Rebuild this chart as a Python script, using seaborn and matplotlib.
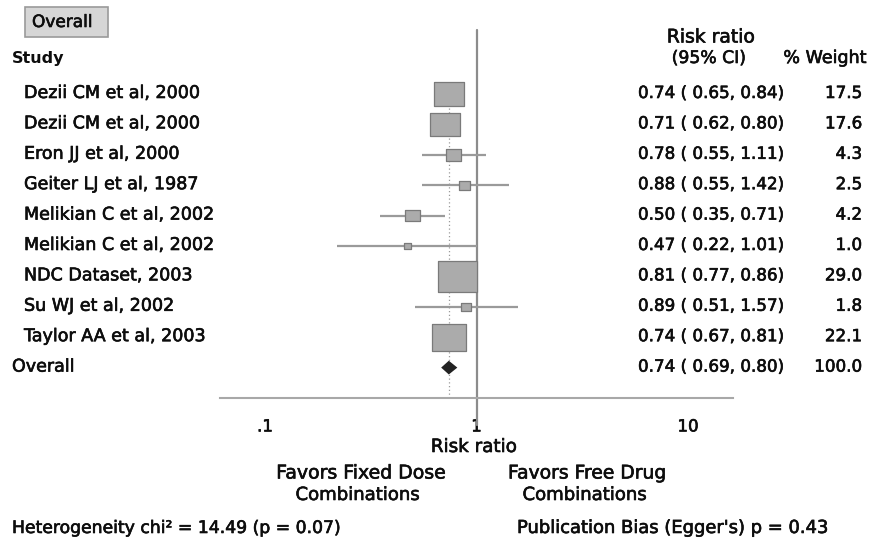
import numpy as np
import pandas as pd
import matplotlib
matplotlib.use("Agg")
import matplotlib.pyplot as plt
import matplotlib.patheffects as pe
from matplotlib.path import Path
from matplotlib.patches import Rectangle, Polygon
import seaborn as sns

# ---------------- data ----------------
studies = ["Dezii CM et al, 2000", "Dezii CM et al, 2000", "Eron JJ et al, 2000",
           "Geiter LJ et al, 1987", "Melikian C et al, 2002", "Melikian C et al, 2002",
           "NDC Dataset, 2003", "Su WJ et al, 2002", "Taylor AA et al, 2003"]
rr = [0.74, 0.71, 0.78, 0.88, 0.50, 0.47, 0.81, 0.89, 0.74]
lo = [0.65, 0.62, 0.55, 0.55, 0.35, 0.22, 0.77, 0.51, 0.67]
hi = [0.84, 0.80, 1.11, 1.42, 0.71, 1.01, 0.86, 1.57, 0.81]
weight = [17.5, 17.6, 4.3, 2.5, 4.2, 1.0, 29.0, 1.8, 22.1]
overall_rr, overall_lo, overall_hi, overall_w = 0.74, 0.69, 0.80, 100.0
xticks = [0.1, 1, 10]
xticklabels = [".1", "1", "10"]
het_text = "Heterogeneity chi\u00b2 = 14.49 (p = 0.07)"
bias_text = "Publication Bias (Egger's) p = 0.43"

# ---------------- figure ----------------
sns.set_style("white")
plt.rcParams["font.family"] = ["DejaVu Sans"]
W, H = 871, 543
fig = plt.figure(figsize=(W / 100, H / 100), dpi=100)

def fx(px):
    return px / W

def fy(py):
    return 1 - py / H

TXT = "#0d0d0d"
GRAY_LINE = "#9a9a9a"
HEAVY = [pe.withStroke(linewidth=0.45, foreground=TXT)]

# axes mapped to pixels: x 220..733, y 30..398
ax_l, ax_r, ax_t, ax_b = 220, 733, 30, 398
ax = fig.add_axes([fx(ax_l), fy(ax_b), (ax_r - ax_l) / W, (ax_b - ax_t) / H])
ax.set_xscale("log")
x1, dec = 476.5, 211.5
ax.set_xlim(10 ** ((ax_l - x1) / dec), 10 ** ((ax_r - x1) / dec))
row0, rstep = 94.0, 30.4
ax.set_ylim((ax_b - row0) / rstep, (ax_t - row0) / rstep)

df = pd.DataFrame({"study": studies, "rr": rr, "lo": lo, "hi": hi,
                   "weight": weight, "row": np.arange(len(studies))})

# CI lines
ax.hlines(df["row"], df["lo"], df["hi"], color=GRAY_LINE, lw=1.6, zorder=2)

# weight boxes (area proportional to weight)
rect = Path([(-0.64, -0.5), (0.64, -0.5), (0.64, 0.5), (-0.64, 0.5), (-0.64, -0.5)],
            [Path.MOVETO, Path.LINETO, Path.LINETO, Path.LINETO, Path.CLOSEPOLY])
k = 27.2
wmin, wmax = min(weight), max(weight)
sns.scatterplot(data=df, x="rr", y="row", size="weight",
                sizes=(k * wmin, k * wmax), size_norm=(wmin, wmax),
                marker=rect, color="#ababab", edgecolor="#7a7a7a", linewidth=0.9,
                legend=False, ax=ax, zorder=3)

# overall diamond
orow = len(studies)
dh = 0.19
ax.add_patch(Polygon([(overall_lo, orow), (overall_rr, orow - dh), (overall_hi, orow),
                      (overall_rr, orow + dh)], closed=True, facecolor="#222222",
                     edgecolor="#222222", lw=1.2, zorder=4))

# reference lines
ax.axvline(1, ymin=-(425 - ax_b) / (ax_b - ax_t), ymax=1, color="#8c8c8c", lw=1.6,
           clip_on=False, zorder=1)
ax.axvline(overall_rr, ymin=0, ymax=(ax_b - 80) / (ax_b - ax_t), color="#9a9a9a",
           lw=0.9, ls=(0, (1, 2)), zorder=1)

# axes styling
for s in ["left", "top", "right"]:
    ax.spines[s].set_visible(False)
ax.spines["bottom"].set_color("#a8a8a8")
ax.spines["bottom"].set_linewidth(1.5)
ax.set_yticks([])
ax.set_ylabel("")
ax.set_xticks(xticks)
ax.set_xticklabels(xticklabels)
ax.xaxis.set_minor_locator(matplotlib.ticker.NullLocator())
ax.tick_params(axis="x", direction="out", length=4, width=1, color="#a8a8a8",
               pad=10, labelsize=12, labelcolor=TXT)
for t in ax.get_xticklabels():
    t.set_path_effects(HEAVY)
ax.set_xlabel("Risk ratio", fontsize=13.2, color=TXT, va="center", path_effects=HEAVY)
ax.xaxis.set_label_coords((474 - ax_l) / (ax_r - ax_l), -(447 - ax_b) / (ax_b - ax_t))
ax.set_facecolor("white")

# ---------------- texts ----------------
def txt(x, y, s, size, ha="left", **kw):
    fig.text(fx(x), fy(y), s, fontsize=size, color=TXT, va="center", ha=ha,
             path_effects=HEAVY, **kw)

FS = 12.6
# "Overall" button
fig.patches.append(Rectangle((fx(25), fy(37)), fx(108) - fx(25), fy(7) - fy(37),
                             transform=fig.transFigure, facecolor="#d6d6d6",
                             edgecolor="#9a9a9a", lw=1.2))
txt(32, 22, "Overall", 12.2)
fig.text(fx(12), fy(58), "Study", fontsize=11.5, fontweight="bold", color=TXT,
         va="center", ha="left")
txt(711, 37, "Risk ratio", 13.5, ha="center")
txt(709, 58, "(95% CI)", 12.4, ha="center")
txt(867, 58, "% Weight", 12.6, ha="right")

CIFS = 12.05
for i, s in enumerate(studies):
    py = row0 + rstep * i - 1
    txt(24, py, s, FS)
    txt(638, py, f"{rr[i]:.2f} ( {lo[i]:.2f}, {hi[i]:.2f})", CIFS)
    txt(862, py, f"{weight[i]:.1f}", CIFS, ha="right")

py = row0 + rstep * orow - 1
txt(12, py, "Overall", FS)
txt(638, py, f"{overall_rr:.2f} ( {overall_lo:.2f}, {overall_hi:.2f})", CIFS)
txt(862, py, f"{overall_w:.1f}", CIFS, ha="right")

txt(361, 473, "Favors Fixed Dose", 13.6, ha="center")
txt(357.5, 495, "Combinations", 13.0, ha="center")
txt(587.5, 473, "Favors Free Drug", 13.5, ha="center")
txt(584.5, 495, "Combinations", 13.0, ha="center")

txt(12, 528, het_text, 12.4)
txt(517, 528, bias_text, 12.9)

fig.savefig("out.png", dpi=100, facecolor="white")
